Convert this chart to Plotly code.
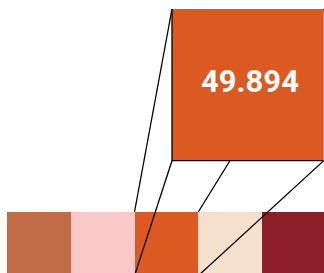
import plotly.graph_objects as go

# ---- data ----
cell_labels = ["c1", "c2", "c3", "c4", "c5"]
cell_colors = ["#C16C46", "#F9C9C9", "#DC5922", "#F5E0CD", "#8D1D27"]
focus_index = 2
focus_value = 49.894

# ---- layout constants ----
W, H = 324, 273
cell_px = 63.75          # pixel size of one cell
left_px = 7              # left edge of the strip
top_px = 212             # top edge of the strip
zoom_scale = 2.38        # magnification of the callout
callout_left_px = 172
callout_top_px = 9

x_lo = -0.5 - left_px / cell_px
x_hi = x_lo + W / cell_px
y_hi = 0.5 + top_px / cell_px
y_lo = y_hi - H / cell_px

n = len(cell_labels)
idx = list(range(n))
colorscale = []
for i, c in enumerate(cell_colors):
    colorscale.append([i / n, c])
    colorscale.append([(i + 1) / n, c])

fig = go.Figure()
fig.add_trace(go.Heatmap(
    z=[idx], x=idx, y=[0], text=[cell_labels],
    colorscale=colorscale, zmin=-0.5, zmax=n - 0.5,
    showscale=False, hoverinfo="skip",
))

# small focus cell corners
sx0, sx1 = focus_index - 0.5, focus_index + 0.5
sy0, sy1 = -0.5, 0.5
# callout square corners
bx0 = x_lo + callout_left_px / cell_px
by1 = y_hi - callout_top_px / cell_px
bx1 = bx0 + zoom_scale
by0 = by1 - zoom_scale

# connector lines
for (ax, ay, bx, by) in [(sx0, sy1, bx0, by1), (sx0, sy0, bx0, by0),
                         (sx1, sy1, bx1, by1), (sx1, sy0, bx1, by0)]:
    fig.add_trace(go.Scatter(x=[ax, bx], y=[ay, by], mode="lines",
                             line=dict(color="black", width=1.3),
                             hoverinfo="skip", showlegend=False))

# callout square
fig.add_trace(go.Scatter(
    x=[bx0, bx1, bx1, bx0, bx0], y=[by0, by0, by1, by1, by0],
    mode="lines", fill="toself", fillcolor=cell_colors[focus_index],
    line=dict(width=0, color=cell_colors[focus_index]),
    hoverinfo="skip", showlegend=False))
# left and bottom border
fig.add_trace(go.Scatter(
    x=[bx0, bx0, bx1], y=[by1, by0, by0], mode="lines",
    line=dict(color="black", width=1.3),
    hoverinfo="skip", showlegend=False))

fig.add_annotation(
    x=(bx0 + bx1) / 2, y=(by0 + by1) / 2, xref="x", yref="y",
    text=f"{focus_value:.3f}", showarrow=False, yshift=3, xshift=2,
    font=dict(family="Liberation Sans Narrow, Roboto",
              size=31, color="white", weight="bold"),
)

fig.update_layout(
    width=W, height=H, margin=dict(l=0, r=0, t=0, b=0),
    paper_bgcolor="white", plot_bgcolor="white", showlegend=False,
    xaxis=dict(range=[x_lo, x_hi], visible=False, fixedrange=True),
    yaxis=dict(range=[y_lo, y_hi], visible=False, fixedrange=True),
)
fig.write_html("out.html", config={"displayModeBar": False},
               post_script="document.body.style.margin='0';")
